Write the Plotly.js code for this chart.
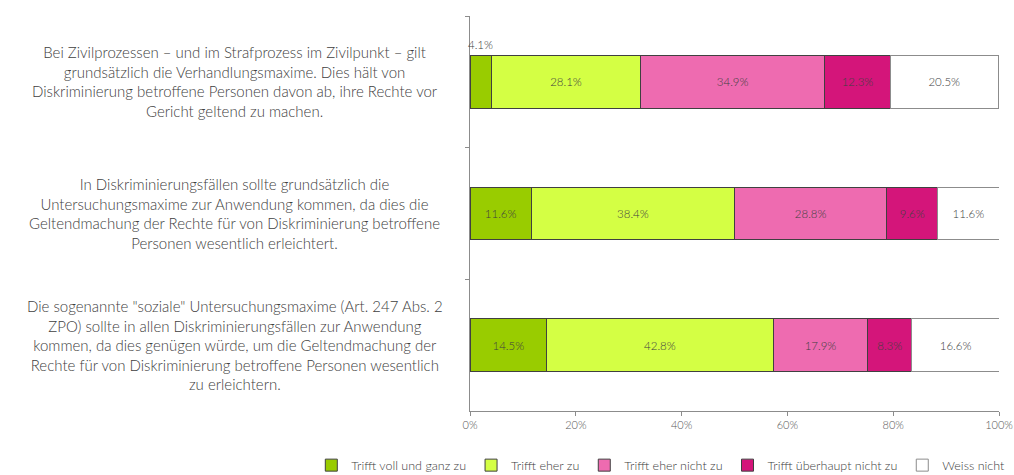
<!DOCTYPE html>
<html>
<head>
<meta charset="utf-8">
<script src="https://cdn.plot.ly/plotly-3.0.1.min.js"></script>
<style>html,body{margin:0;padding:0;background:#fff;}#chart{width:1014px;height:475px;}</style>
</head>
<body>
<div id="chart"></div>
<script>
const categories = [
  "Bei Zivilprozessen – und im Strafprozess im Zivilpunkt – gilt<br>grundsätzlich die Verhandlungsmaxime. Dies hält von<br>Diskriminierung betroffene Personen davon ab, ihre Rechte vor<br>Gericht geltend zu machen.",
  "In Diskriminierungsfällen sollte grundsätzlich die<br>Untersuchungsmaxime zur Anwendung kommen, da dies die<br>Geltendmachung der Rechte für von Diskriminierung betroffene<br>Personen wesentlich erleichtert.",
  "Die sogenannte \"soziale\" Untersuchungsmaxime (Art. 247 Abs. 2<br>ZPO) sollte in allen Diskriminierungsfällen zur Anwendung<br>kommen, da dies genügen würde, um die Geltendmachung der<br>Rechte für von Diskriminierung betroffene Personen wesentlich<br>zu erleichtern."
];
const seriesNames = ["Trifft voll und ganz zu", "Trifft eher zu", "Trifft eher nicht zu", "Trifft überhaupt nicht zu", "Weiss nicht"];
const trifftVoll = [4.1, 11.6, 14.5];
const trifftEher = [28.1, 38.4, 42.8];
const trifftEherNicht = [34.9, 28.8, 17.9];
const trifftUeberhauptNicht = [12.3, 9.6, 8.3];
const weissNicht = [20.5, 11.6, 16.6];
const xTickVals = [0, 20, 40, 60, 80, 100];
const xTickText = ["0%", "20%", "40%", "60%", "80%", "100%"];

const seriesValues = [trifftVoll, trifftEher, trifftEherNicht, trifftUeberhauptNicht, weissNicht];
const colors = ["#99CC00", "#D4FF44", "#EE6BB0", "#D4157A", "#FFFFFF"];
const lineColors = ["#404040", "#404040", "#404040", "#404040", "#8C8C8C"];
const FONT = "Lato, 'Open Sans', sans-serif";
const ids = ["c0", "c1", "c2"];
const SMALL = 5; // values below this are labelled above the bar

const traces = seriesValues.map((vals, i) => ({
  type: "bar",
  orientation: "h",
  name: seriesNames[i],
  x: vals,
  y: ids,
  width: 0.4,
  marker: {color: colors[i], line: {color: lineColors[i], width: 1}},
  text: vals.map(v => v.toFixed(1) + "%"),
  textposition: vals.map(v => v < SMALL ? "none" : "inside"),
  insidetextanchor: "middle",
  textangle: 0,
  textfont: {family: FONT, size: 11.5, color: "#404040", weight: 300},
  constraintext: "none",
  hoverinfo: "skip"
}));

const annotations = [];
categories.forEach((c, j) => {
  annotations.push({
    xref: "paper", yref: "y", x: -0.445, y: ids[j], xanchor: "center", yanchor: "middle",
    text: c, showarrow: false, align: "center",
    font: {family: FONT, size: 15, color: "#404040", weight: 300}
  });
});
// small-value labels placed above the bar
seriesValues.forEach((vals, i) => {
  let cum = seriesValues.slice(0, i);
  vals.forEach((v, j) => {
    if (v < SMALL) {
      const start = cum.reduce((s, a) => s + a[j], 0);
      annotations.push({
        xref: "x", yref: "y", x: start + v / 2, y: ids[j], yshift: 37,
        xanchor: "center", yanchor: "middle", showarrow: false,
        text: v.toFixed(1) + "%", font: {family: FONT, size: 11.5, color: "#404040", weight: 300}
      });
    }
  });
});

const layout = {
  width: 1014, height: 475,
  margin: {l: 470, r: 15, t: 16, b: 64, autoexpand: false},
  paper_bgcolor: "#fff", plot_bgcolor: "#fff",
  barmode: "stack",
  showlegend: true,
  font: {family: FONT, color: "#404040"},
  xaxis: {
    range: [0, 100], tickvals: xTickVals, ticktext: xTickText,
    showgrid: false, zeroline: false, showline: true, linecolor: "#8C8C8C", linewidth: 1,
    ticks: "outside", ticklen: 4, tickcolor: "#8C8C8C",
    tickfont: {family: FONT, size: 11, color: "#595959", weight: 300}, fixedrange: true
  },
  yaxis: {
    type: "category", autorange: "reversed", showticklabels: false,
    showgrid: false, zeroline: false, showline: true, linecolor: "#8C8C8C", linewidth: 1,
    ticks: "outside", tickson: "boundaries", ticklen: 4, tickcolor: "#8C8C8C", fixedrange: true
  },
  legend: {
    orientation: "h", x: -0.3, xanchor: "left", y: -0.1, yanchor: "top",
    font: {family: FONT, size: 12.5, color: "#404040", weight: 300},
    itemwidth: 30, traceorder: "normal", tracegroupgap: 0
  },
  annotations: annotations
};

Plotly.newPlot("chart", traces, layout, {displayModeBar: false, staticPlot: true});
</script>
</body>
</html>
